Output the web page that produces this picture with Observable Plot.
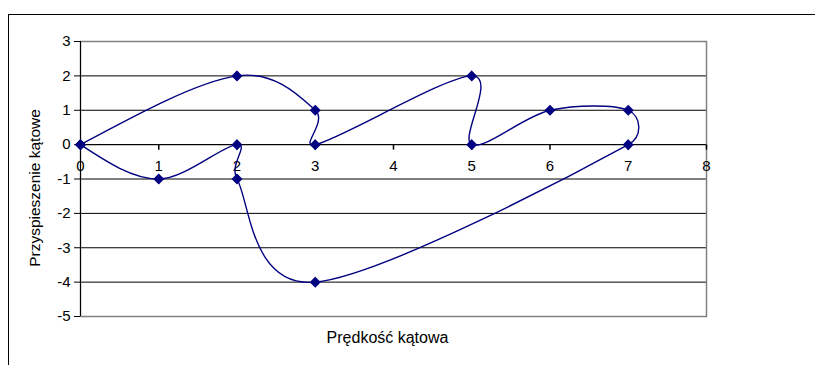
<!DOCTYPE html>
<html>
<head>
<meta charset="utf-8">
<script src="https://cdn.jsdelivr.net/npm/d3@7"></script>
<script src="https://cdn.jsdelivr.net/npm/@observablehq/plot@0.6"></script>
<style>
  html, body { margin: 0; padding: 0; background: #fff; overflow: hidden; }
  #wrap { position: relative; width: 815px; height: 365px; }
  #box { position: absolute; left: 8px; top: 14px; width: 900px; height: 400px;
         border-left: 1px solid #000; border-top: 1px solid #000; }
  #chart { position: absolute; left: 0; top: 0; }
</style>
</head>
<body>
<div id="wrap"><div id="box"></div><div id="chart"></div></div>
<script>
// Data (in drawing order of the smoothed line)
const velocity = [0, 2, 3, 3, 5, 5, 6, 7, 7, 3, 2, 2, 1, 0];
const acceleration = [0, 2, 1, 0, 2, 0, 1, 1, 0, -4, -1, 0, -1, 0];
const xTicks = [0, 1, 2, 3, 4, 5, 6, 7, 8];
const yTicks = [-5, -4, -3, -2, -1, 0, 1, 2, 3];
const xTitle = "Prędkość kątowa";
const yTitle = "Przyspieszenie kątowe";

const data = velocity.map((v, i) => ({x: v, y: acceleration[i]}));
const navy = "#000080";
const font = "Liberation Sans, Arial, sans-serif";

// tick mark symbol: a short vertical stroke hanging down from the point
const tickDown = {
  draw(context, size) {
    const r = Math.sqrt(size / Math.PI);
    context.moveTo(0, 0);
    context.lineTo(0, r);
  }
};

// Spreadsheet-style smoothing: Catmull-Rom Bezier (tangent/6), with the control
// distance limited to half of the segment length.
function SmoothCurve(context) { this._context = context; }
SmoothCurve.prototype = {
  areaStart() {}, areaEnd() {},
  lineStart() { this._pts = []; },
  point(x, y) { this._pts.push([+x, +y]); },
  lineEnd() {
    const p = this._pts, n = p.length, c = this._context;
    if (!n) return;
    c.moveTo(p[0][0], p[0][1]);
    const ctrl = (P, A, B, d12, sign) => {
      let tx = (B[0] - A[0]) / 6, ty = (B[1] - A[1]) / 6;
      const l = Math.hypot(tx, ty), lim = d12 / 2;
      if (l > lim && l > 0) { tx *= lim / l; ty *= lim / l; }
      return [P[0] + sign * tx, P[1] + sign * ty];
    };
    for (let i = 0; i < n - 1; i++) {
      const P1 = p[i], P2 = p[i + 1], P0 = p[i - 1], P3 = p[i + 2];
      const d12 = Math.hypot(P2[0] - P1[0], P2[1] - P1[1]);
      let c1 = P0 ? ctrl(P1, P0, P2, d12, 1) : null;
      let c2 = P3 ? ctrl(P2, P1, P3, d12, -1) : null;
      if (!c1 && c2) c1 = [P1[0] + (c2[0] - P1[0]) / 2, P1[1] + (c2[1] - P1[1]) / 2];
      if (!c2 && c1) c2 = [P2[0] + (c1[0] - P2[0]) / 2, P2[1] + (c1[1] - P2[1]) / 2];
      if (!c1) { c.lineTo(P2[0], P2[1]); continue; }
      c.bezierCurveTo(c1[0], c1[1], c2[0], c2[1], P2[0], P2[1]);
    }
  }
};
const smooth = (context) => new SmoothCurve(context);

const chart = Plot.plot({
  width: 815,
  height: 365,
  marginLeft: 80,
  marginRight: 109,
  marginTop: 41,
  marginBottom: 49,
  style: {fontFamily: font, fontSize: "15px", color: "#000", background: "transparent"},
  x: {domain: [0, 8], axis: null},
  y: {domain: [-5, 3], axis: null},
  marks: [
    Plot.ruleY(yTicks, {stroke: "#000", strokeWidth: 1}),
    Plot.frame({stroke: "#808080", strokeWidth: 1.5}),
    Plot.ruleX([0], {stroke: "#000"}),
    Plot.ruleY([0], {stroke: "#000"}),
    Plot.axisY({ticks: yTicks, tickSize: 6, tickPadding: 4, tickFormat: d => String(d),
                label: null, stroke: "#000", fontSize: 15}),
    Plot.dot(xTicks, {x: d => d, y: () => 0, symbol: tickDown, r: 5, stroke: "#000", fill: "none"}),
    Plot.text(xTicks, {x: d => d, y: () => 0, text: d => String(d), dy: 22, fontSize: 15, fill: "#000"}),
    Plot.text([yTitle], {frameAnchor: "left", textAnchor: "middle", dx: -45, dy: 9, rotate: -90, fontSize: 15.5, fill: "#000"}),
    Plot.text([xTitle], {frameAnchor: "bottom", textAnchor: "middle", dx: -6, dy: 26, fontSize: 16, fill: "#000"}),
    Plot.line(data, {x: "x", y: "y", curve: smooth, stroke: navy, strokeWidth: 1.4}),
    Plot.dot(data, {x: "x", y: "y", symbol: "diamond2", r: 4, fill: navy, stroke: navy})
  ]
});
document.getElementById("chart").appendChild(chart);
</script>
</body>
</html>
